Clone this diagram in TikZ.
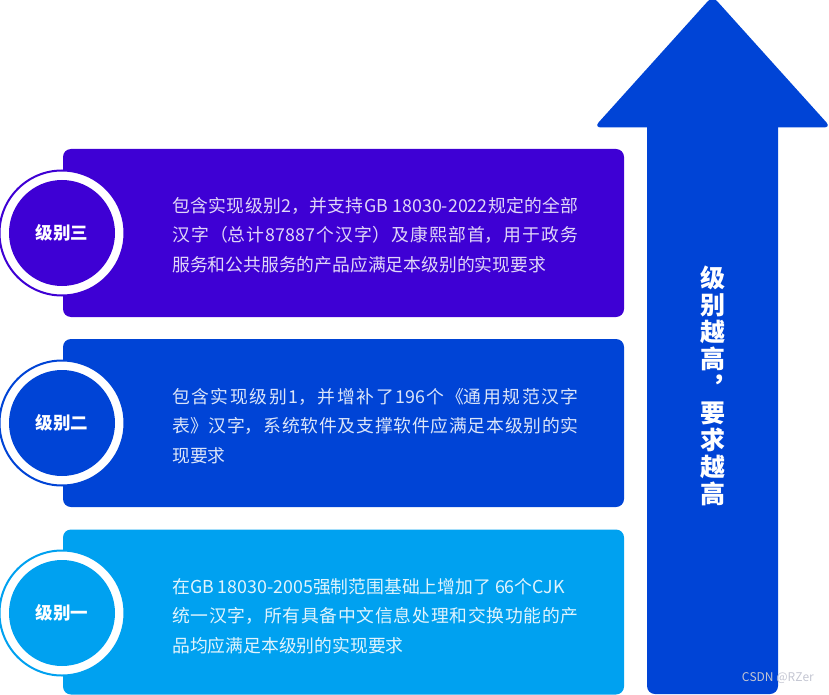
\documentclass[tikz,border=0pt]{standalone}
\usepackage{fontspec}
\setmainfont{Noto Sans CJK SC}[Kerning=Off]
\XeTeXlinebreaklocale "zh"
\XeTeXlinebreakskip=0pt plus 2pt
\definecolor{cthree}{RGB}{62,0,212}
\definecolor{ctwo}{RGB}{0,68,214}
\definecolor{cone}{RGB}{0,161,240}
\definecolor{arrowc}{RGB}{0,68,214}
\definecolor{wmark}{RGB}{196,198,210}
\begin{document}
\begin{tikzpicture}[x=1pt,y=-1pt,
  levelbox/.style={rectangle, rounded corners=8pt, minimum width=561pt, minimum height=168pt, inner sep=0pt, draw=none},
  ringc/.style={circle, minimum size=125pt, inner sep=0pt, fill=white, line width=2pt},
  innerc/.style={circle, minimum size=106pt, inner sep=0pt, text=white, font=\fontsize{17.5}{20}\selectfont\bfseries},
  desc/.style={anchor=west, align=justify, text width=406.5pt, inner sep=0pt, font=\fontsize{17.8}{29.5}\selectfont},
]
\useasboundingbox (0,0) rectangle (829,695);
% arrow
\fill[arrowc, rounded corners=7pt] (712.5,-4) -- (831,127.5) -- (594,127.5) -- cycle;
\fill[arrowc, rounded corners=8pt] (647,110) rectangle (778,694);
\node[text=white, align=center, inner sep=0pt, font=\fontsize{25}{27}\selectfont\bfseries] (slogan) at (712.5,386)
  {级\\别\\越\\高\\︐\\要\\求\\越\\高};
% boxes
\node[levelbox, fill=cthree] (box3) at (343.5,233) {};
\node[levelbox, fill=ctwo] (box2) at (343.5,423) {};
\node[levelbox, fill=cone, minimum height=165pt] (box1) at (343.5,612) {};
% circles
\node[ringc, draw=cthree] (ring3) at (62,233) {};
\node[innerc, fill=cthree] (lvl3) at (62,233) {级别三};
\node[ringc, draw=ctwo] (ring2) at (62,423) {};
\node[innerc, fill=ctwo] (lvl2) at (62,423) {级别二};
\node[ringc, draw=cone] (ring1) at (62,613) {};
\node[innerc, fill=cone] (lvl1) at (62,613) {级别一};
% texts
\node[desc, text=white!84!cthree] (t3) at (172,235)
  {包含实现级别2，并支持GB 18030-2022规定的全部\linebreak 汉字（总计87887个汉字）及康熙部首，用于政务\linebreak 服务和公共服务的产品应满足本级别的实现要求};
\node[desc, text=white!86!ctwo] (t2) at (172,426)
  {包含实现级别1，并增补了196个《通用规范汉字\linebreak 表》汉字，系统软件及支撑软件应满足本级别的实\linebreak 现要求};
\node[desc, text=white!88!cone] (t1) at (172,616)
  {在GB 18030-2005强制范围基础上增加了 66个CJK\newline 统一汉字，所有具备中文信息处理和交换功能的产\linebreak 品均应满足本级别的实现要求};
% watermark
\node[anchor=east, inner sep=0pt, text=wmark, font=\fontsize{12}{14}\selectfont] (wm) at (814,678) {CSDN @RZer};
\end{tikzpicture}
\end{document}
